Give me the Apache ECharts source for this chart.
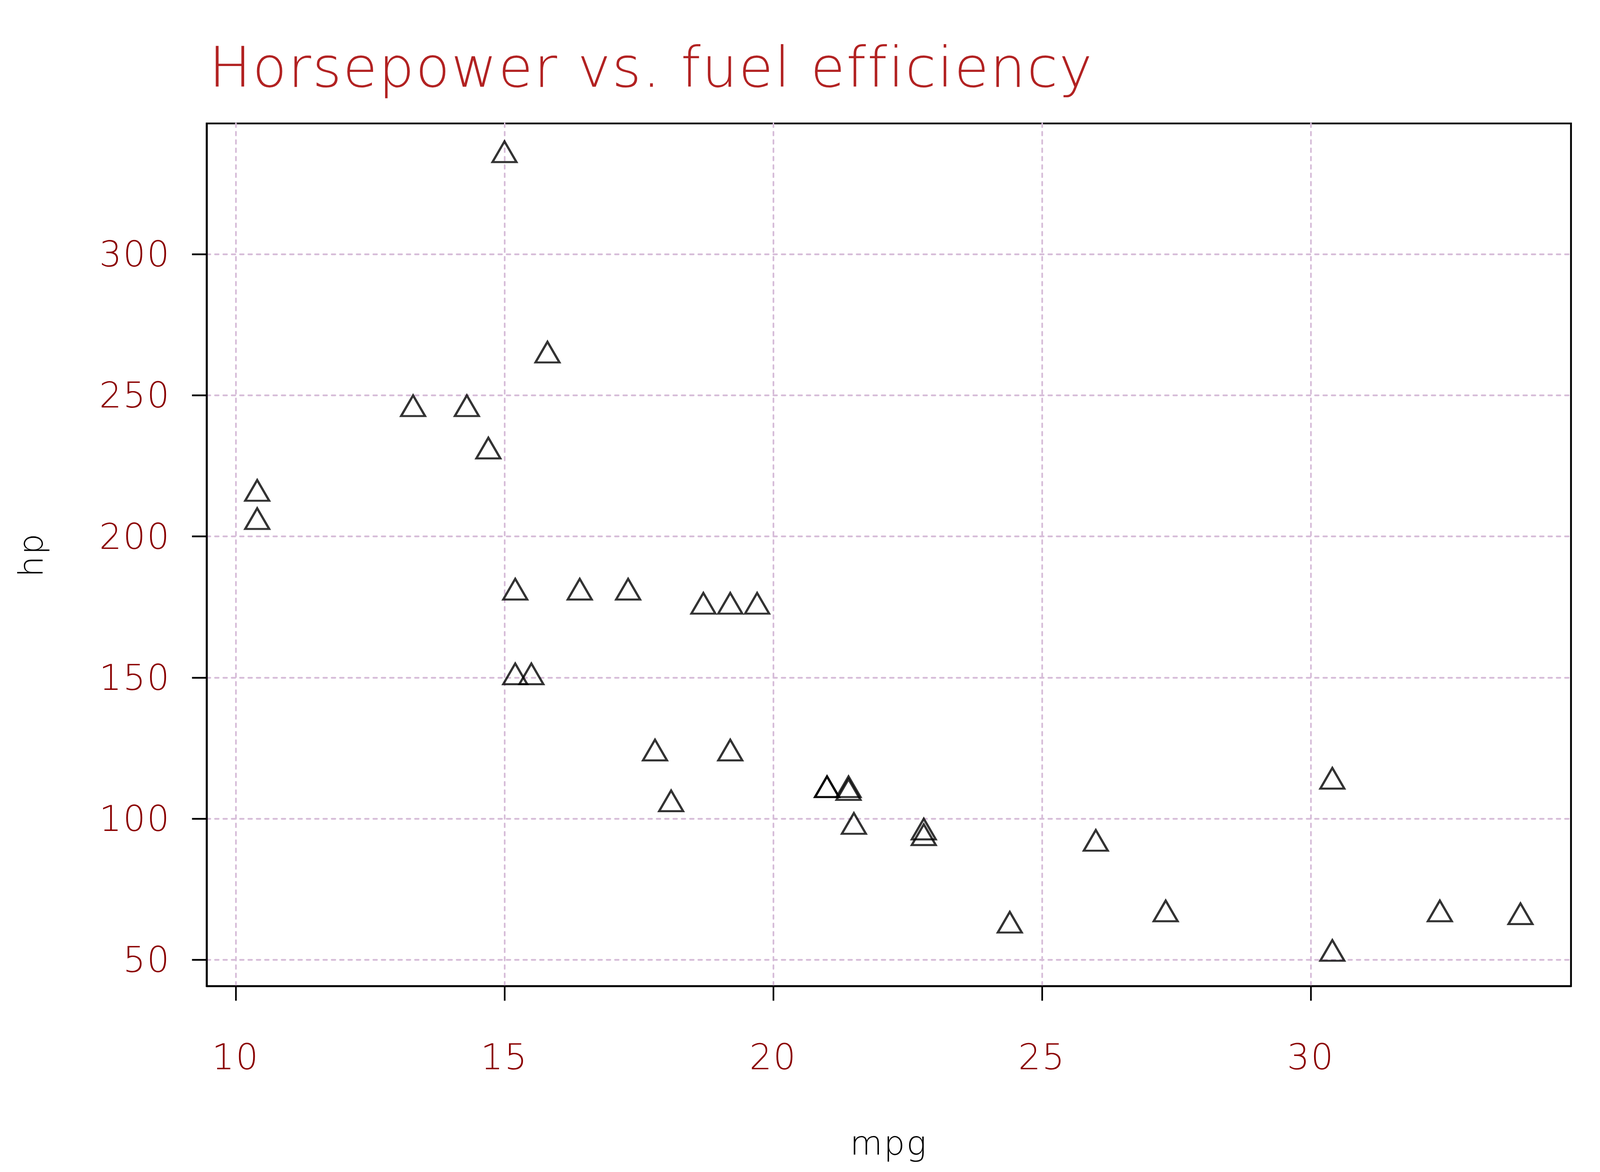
<!DOCTYPE html>
<html>
<head>
<meta charset="utf-8">
<title>Horsepower vs. fuel efficiency</title>
<script src="https://cdn.jsdelivr.net/npm/echarts@6/dist/echarts.min.js"></script>
<style>
  html, body { margin: 0; padding: 0; background: #fff; overflow: hidden; }
  #chart { width: 100vw; height: 100vh; }
</style>
</head>
<body>
<div id="chart"></div>
<script>
// mtcars: miles per gallon and gross horsepower
const mpg = [21.0, 21.0, 22.8, 21.4, 18.7, 18.1, 14.3, 24.4, 22.8, 19.2, 17.8,
  16.4, 17.3, 15.2, 10.4, 10.4, 14.7, 32.4, 30.4, 33.9, 21.5, 15.5, 15.2,
  13.3, 19.2, 27.3, 26.0, 30.4, 15.8, 19.7, 15.0, 21.4]
const hp = [110, 110, 93, 110, 175, 105, 245, 62, 95, 123, 123,
  180, 180, 180, 205, 215, 230, 66, 52, 65, 97, 150, 150,
  245, 175, 66, 91, 113, 264, 175, 335, 109]
const xTicks = [10, 15, 20, 25, 30]
const yTicks = [50, 100, 150, 200, 250, 300]

const labelFont = 'DejaVu Sans'
const labelWeight = 200

// lattice pads the data range by 4% on each side
const pad = (arr) => {
  const lo = Math.min.apply(null, arr), hi = Math.max.apply(null, arr)
  const d = (hi - lo) * 0.04
  return [lo - d, hi + d]
}
const xRange = pad(mpg)
const yRange = pad(hp)

const el = document.getElementById('chart')
const chart = echarts.init(el, null, { renderer: 'svg' })

// layout was measured on a 4800x3000 page, scale it to whatever we got
const sx = chart.getWidth() / 4800
const sy = chart.getHeight() / 3000
const s = Math.min(sx, sy)

// the original lettering is a bit more open than DejaVu
el.style.letterSpacing = (4 * s) + 'px'

const gridStyle = { color: '#d6bcd8', width: 5 * s, type: [11 * s, 14 * s], cap: 'round' }

const option = {
  backgroundColor: '#fff',
  animation: false,
  title: {
    text: 'Horsepower vs. fuel efficiency',
    left: 627 * sx,
    top: 101 * sy,
    padding: 0,
    textStyle: { color: '#b22222', fontFamily: labelFont, fontSize: 168 * s, fontWeight: labelWeight }
  },
  grid: {
    left: 620 * sx, top: 316 * sy, right: 87 * sx, bottom: 476 * sy,
    show: true, borderColor: '#000', borderWidth: 5.5 * s, backgroundColor: 'transparent'
  },
  xAxis: {
    type: 'value',
    min: xRange[0], max: xRange[1],
    name: 'mpg',
    nameLocation: 'middle',
    nameGap: 360 * sy,
    nameTextStyle: { color: '#000', fontFamily: labelFont, fontSize: 100 * s, fontWeight: labelWeight },
    axisLine: { show: true, lineStyle: { color: '#000', width: 5.5 * s } },
    axisTick: { show: true, length: 44 * s, lineStyle: { color: '#000', width: 5 * s }, customValues: xTicks },
    axisLabel: { color: '#8b0000', fontFamily: labelFont, fontSize: 106 * s, fontWeight: labelWeight, margin: 136 * sy, customValues: xTicks },
    splitLine: { show: true, lineStyle: gridStyle }
  },
  yAxis: {
    type: 'value',
    min: yRange[0], max: yRange[1],
    name: 'hp',
    nameLocation: 'middle',
    nameGap: 477 * sx,
    nameTextStyle: { color: '#000', fontFamily: labelFont, fontSize: 100 * s, fontWeight: labelWeight },
    axisLine: { show: true, lineStyle: { color: '#000', width: 5.5 * s } },
    axisTick: { show: true, length: 44 * s, lineStyle: { color: '#000', width: 5 * s }, customValues: yTicks },
    axisLabel: { color: '#8b0000', fontFamily: labelFont, fontSize: 106 * s, fontWeight: labelWeight, margin: 108 * sx, customValues: yTicks },
    splitLine: { show: true, lineStyle: gridStyle }
  },
  series: [{
    type: 'scatter',
    data: mpg.map((m, i) => [m, hp[i]]),
    symbol: 'triangle',
    symbolSize: [72 * s, 62 * s],
    // pch 2 is centred on its centroid, not its box
    symbolOffset: [0, -11 * s],
    itemStyle: { color: 'transparent', borderColor: '#000', borderWidth: 6.5 * s },
    emphasis: { disabled: true }
  }]
}

chart.setOption(option)
window.addEventListener('resize', () => chart.resize())
</script>
</body>
</html>
